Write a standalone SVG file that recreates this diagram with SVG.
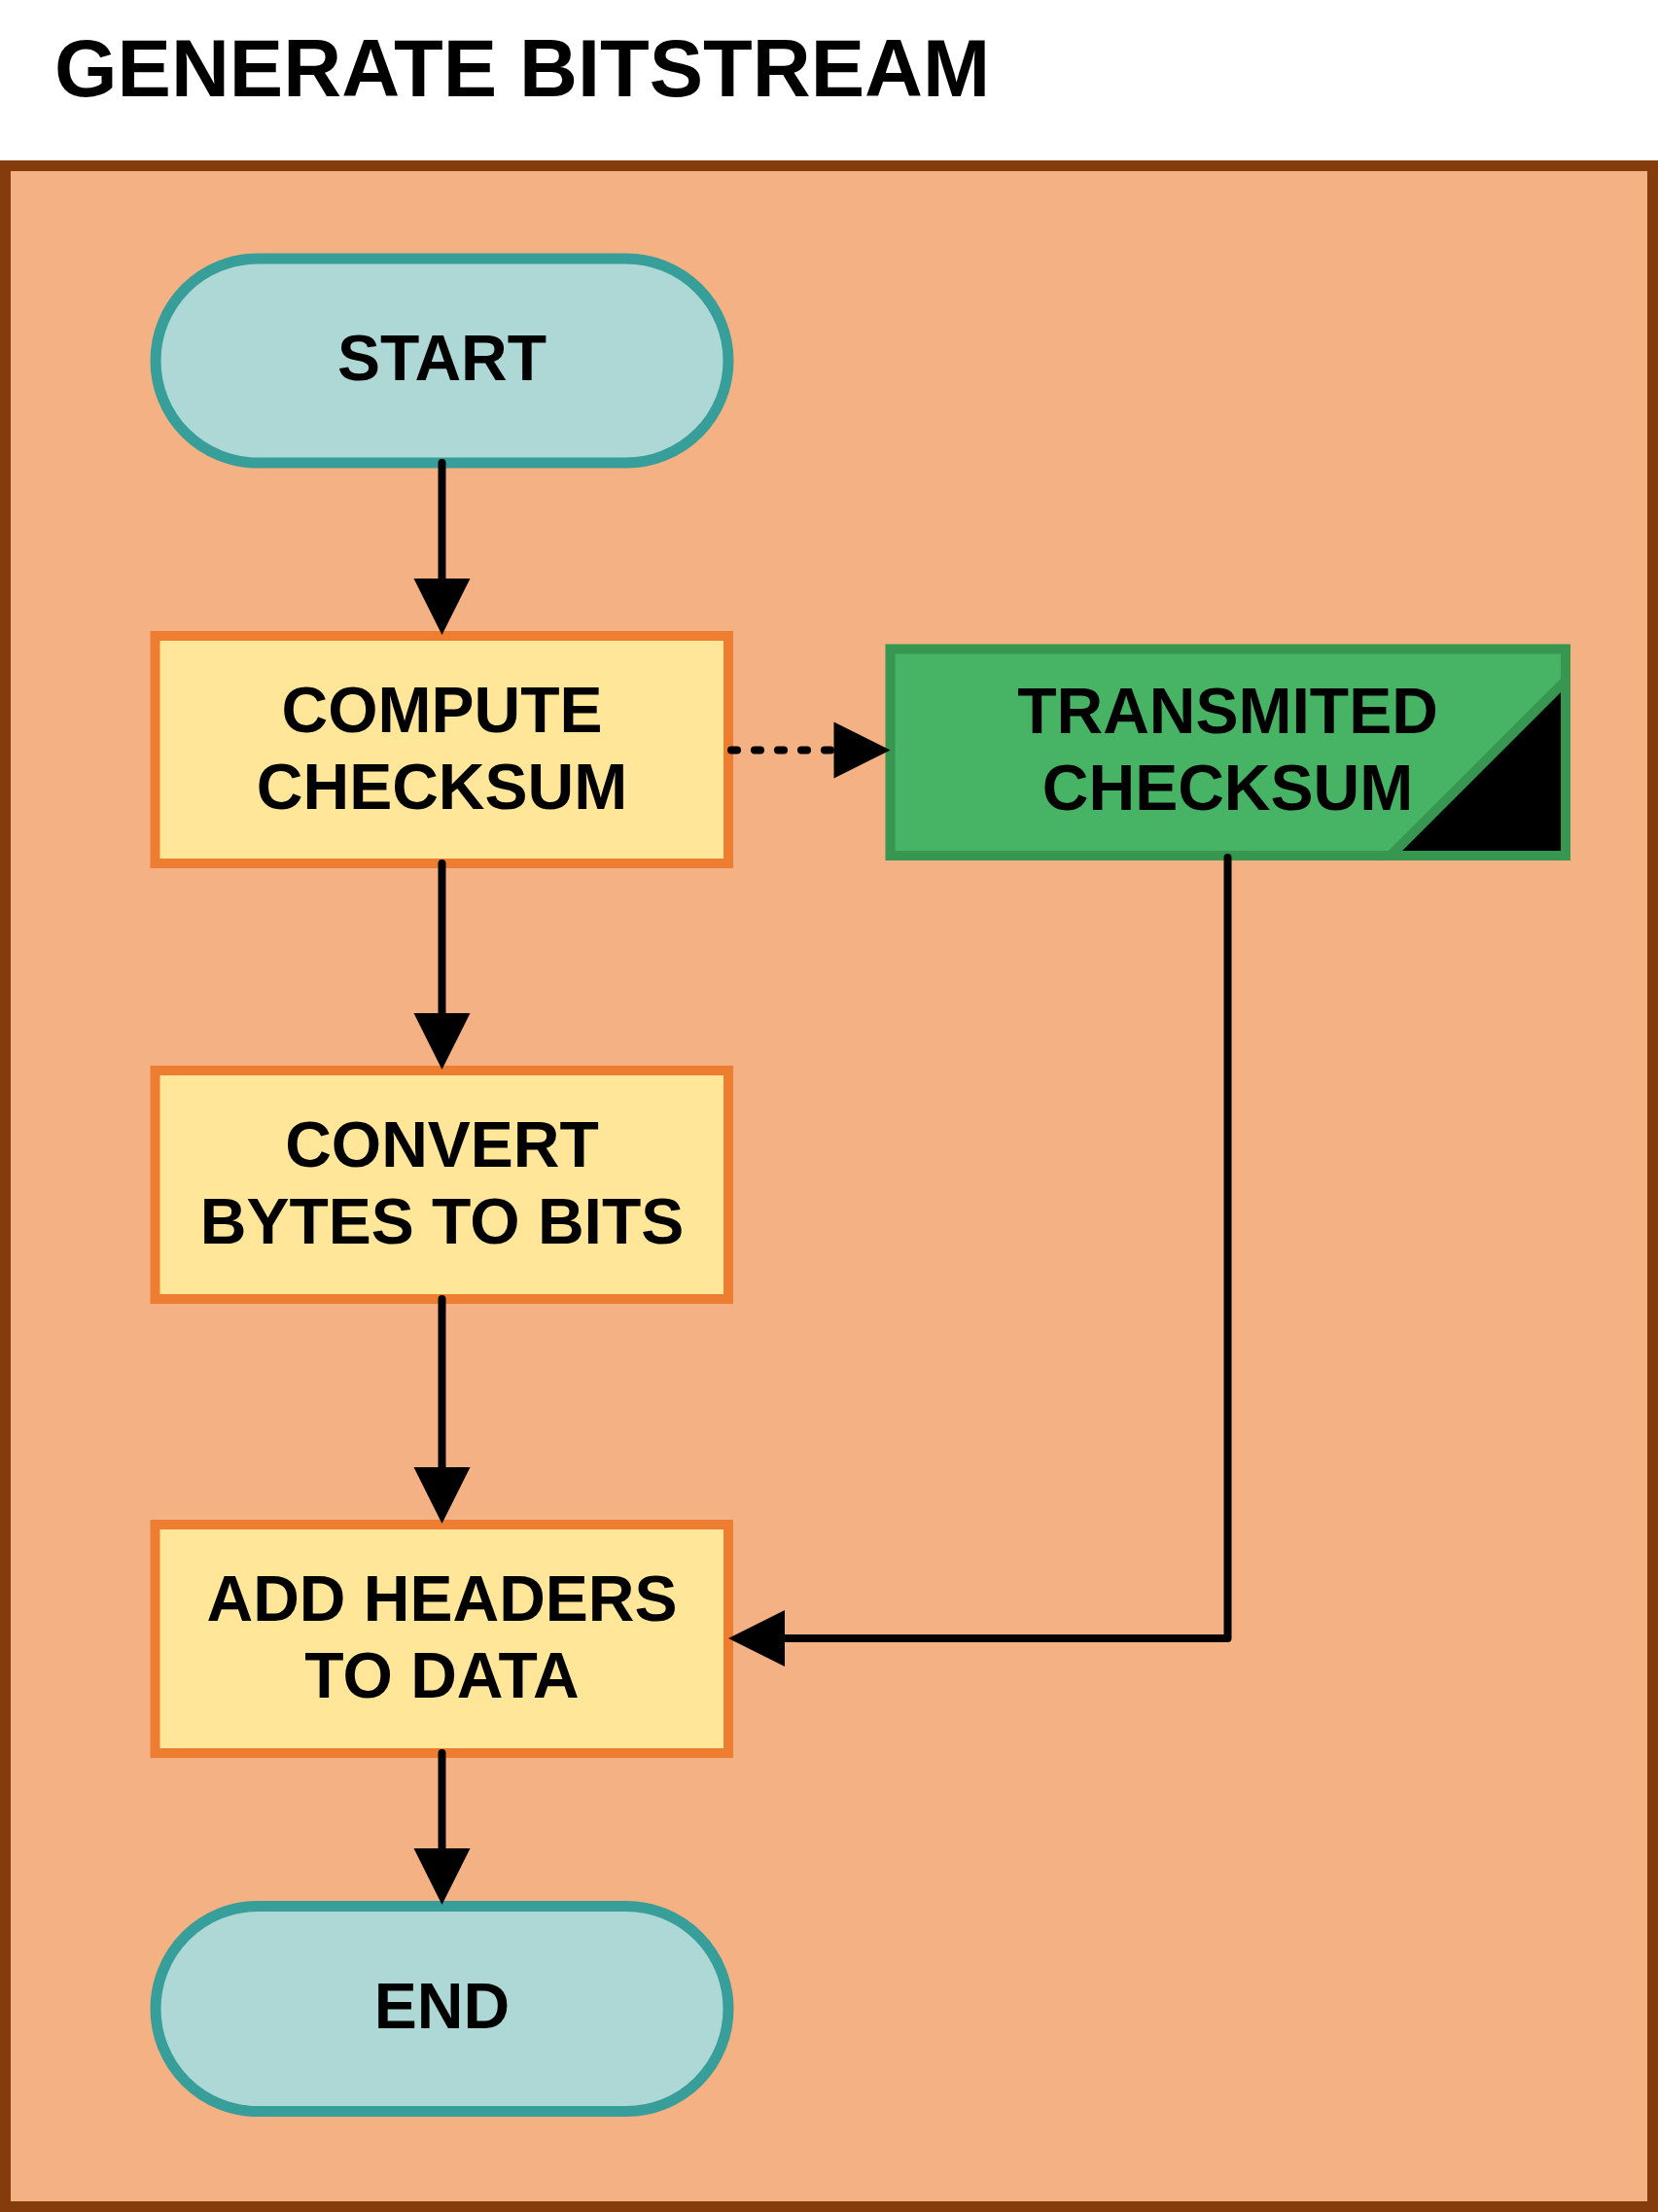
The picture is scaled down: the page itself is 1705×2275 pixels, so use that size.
<svg xmlns="http://www.w3.org/2000/svg" width="1705" height="2275" viewBox="0 0 1705 2275">
<style>
.lbl{font-family:"Liberation Sans",Arial,sans-serif;font-weight:bold;font-size:66px;fill:#000;text-anchor:middle}
.title{font-family:"Liberation Sans",Arial,sans-serif;font-weight:bold;font-size:83px;fill:#000}
.term{fill:#ADD8D6;stroke:#389E99;stroke-width:11}
.proc{fill:#FFE699;stroke:#ED7D31;stroke-width:10}
.data{fill:#46B464;stroke:#379650;stroke-width:10}
.conn{fill:none;stroke:#000;stroke-width:8;stroke-linecap:round;stroke-linejoin:round}
.dot{stroke-dasharray:6 18}
</style>
<defs>
<marker id="arr" markerUnits="userSpaceOnUse" markerWidth="58" markerHeight="58" refX="0" refY="29" orient="auto" overflow="visible">
<path d="M0,0 L58,29 L0,58 Z" fill="#000" stroke="none"/>
</marker>
</defs>
<rect width="1705" height="2275" fill="#FFFFFF"/>
<text class="title" x="56" y="99">GENERATE BITSTREAM</text>
<rect x="5.5" y="170.5" width="1694" height="2099" fill="#F4B183" stroke="#843C0C" stroke-width="11"/>

<g id="start">
<rect class="term" x="160" y="266" width="589" height="210" rx="105" ry="105"/>
<text class="lbl" x="454.5" y="391">START</text>
</g>

<g id="compute">
<rect class="proc" x="159.5" y="654" width="589.5" height="234"/>
<text class="lbl" x="454.5" y="752.5">COMPUTE</text>
<text class="lbl" x="454.5" y="831.5">CHECKSUM</text>
</g>

<g id="transmited">
<rect class="data" x="915.5" y="667.5" width="694.5" height="212.5"/>
<path d="M1610,700 L1610,880 L1430,880 Z" fill="#000" stroke="#379650" stroke-width="10" stroke-linejoin="miter"/>
<text class="lbl" x="1262.5" y="754">TRANSMITED</text>
<text class="lbl" x="1262.5" y="832.5">CHECKSUM</text>
</g>

<g id="convert">
<rect class="proc" x="159.5" y="1101" width="589.5" height="235"/>
<text class="lbl" x="454.5" y="1200">CONVERT</text>
<text class="lbl" x="454.5" y="1279">BYTES TO BITS</text>
</g>

<g id="addheaders">
<rect class="proc" x="159.5" y="1568" width="589.5" height="235"/>
<text class="lbl" x="454.5" y="1667">ADD HEADERS</text>
<text class="lbl" x="454.5" y="1746">TO DATA</text>
</g>

<g id="end">
<rect class="term" x="160" y="1960.5" width="589" height="211" rx="105" ry="105.5"/>
<text class="lbl" x="454.5" y="2086">END</text>
</g>

<g id="connectors">
<path class="conn" d="M454.5,476 V595" marker-end="url(#arr)"/>
<path class="conn" d="M454.5,888 V1042" marker-end="url(#arr)"/>
<path class="conn" d="M454.5,1336 V1509" marker-end="url(#arr)"/>
<path class="conn" d="M454.5,1803 V1901" marker-end="url(#arr)"/>
<path class="conn dot" d="M752,771.5 H857.5"/>
<path d="M857.5,742.5 L915.5,771.5 L857.5,800.5 Z" fill="#000"/>
<path class="conn" d="M1262.5,882 V1685 H807" marker-end="url(#arr)"/>
</g>
</svg>
